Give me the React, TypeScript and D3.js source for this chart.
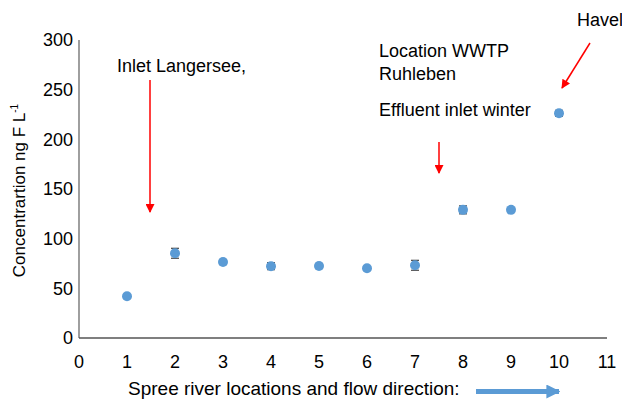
import React from "react";
import * as d3 from "d3";

const locations = [1, 2, 3, 4, 5, 6, 7, 8, 9, 10];
const concentrations = [42, 85.3, 76.5, 72.3, 72.5, 70.2, 73.2, 129, 129, 226.2];
const errors = [1.5, 5, 2.5, 3.5, 2.5, 1.5, 5, 4, 1.5, 3];
const xTicks = [0, 1, 2, 3, 4, 5, 6, 7, 8, 9, 10, 11];
const yTicks = [0, 50, 100, 150, 200, 250, 300];

const FONT = "'Liberation Sans', Arial, Helvetica, sans-serif";

export default function App() {
  const W = 622, H = 400;
  const x = d3.scaleLinear().domain([0, 11]).range([79, 607]);
  const y = d3.scaleLinear().domain([0, 300]).range([338, 40]);
  const blue = "#5b9bd5";
  const red = "#ff0000";
  return (
    <svg width={W} height={H} style={{ position: "absolute", left: 0, top: 0, background: "#fff" }} fontFamily={FONT}>
      <defs>
        <marker id="redhead" viewBox="0 0 10 10" refX="9" refY="5" markerUnits="userSpaceOnUse" markerWidth="10" markerHeight="9" orient="auto">
          <path d="M0,0 L10,5 L0,10 z" fill={red} />
        </marker>
        <marker id="bluehead" viewBox="0 0 10 10" refX="9" refY="5" markerUnits="userSpaceOnUse" markerWidth="14" markerHeight="14" orient="auto">
          <path d="M0,0 L10,5 L0,10 z" fill={blue} />
        </marker>
      </defs>
      {/* axes */}
      <line x1={x(0)} x2={x(0)} y1={y(300)} y2={y(0)} stroke="#767676" strokeWidth={1.4} />
      <line x1={x(0)} x2={x(11)} y1={y(0)} y2={y(0)} stroke="#555" strokeWidth={1.4} />
      {yTicks.map((t) => (
        <text key={"y" + t} x={x(0) - 6} y={y(t)} dy="0.35em" textAnchor="end" fontSize={18} fill="#000">{t}</text>
      ))}
      {xTicks.map((t) => (
        <text key={"x" + t} x={x(t)} y={368} textAnchor="middle" fontSize={18} fill="#000">{t}</text>
      ))}
      {/* y title */}
      <text transform={`translate(25,${190.5}) rotate(-90)`} textAnchor="middle" fontSize={17} fill="#000">
        Concentrartion ng F L<tspan dy={-7} fontSize={10}>-1</tspan>
      </text>
      {/* x title */}
      <text x={128} y={395} fontSize={19} fill="#000">Spree river locations and flow direction:</text>
      <line x1={476} x2={559} y1={391.5} y2={391.5} stroke={blue} strokeWidth={5} markerEnd="url(#bluehead)" />
      {/* error bars */}
      {locations.map((l, i) => (
        <g key={"e" + l} stroke="#444" strokeWidth={1.2}>
          <line x1={x(l)} x2={x(l)} y1={y(concentrations[i] - errors[i])} y2={y(concentrations[i] + errors[i])} />
          <line x1={x(l) - 4} x2={x(l) + 4} y1={y(concentrations[i] - errors[i])} y2={y(concentrations[i] - errors[i])} />
          <line x1={x(l) - 4} x2={x(l) + 4} y1={y(concentrations[i] + errors[i])} y2={y(concentrations[i] + errors[i])} />
        </g>
      ))}
      {/* points */}
      {locations.map((l, i) => (
        <circle key={"p" + l} cx={x(l)} cy={y(concentrations[i])} r={5} fill={blue} />
      ))}
      {/* annotations */}
      <text x={117} y={72} fontSize={18} fill="#000">Inlet Langersee,</text>
      <line x1={150} x2={150} y1={80} y2={212} stroke={red} strokeWidth={1.5} markerEnd="url(#redhead)" />
      <text x={379} y={57} fontSize={18} fill="#000">Location WWTP</text>
      <text x={379} y={80} fontSize={18} fill="#000">Ruhleben</text>
      <text x={379} y={116} fontSize={18} fill="#000">Effluent inlet winter</text>
      <line x1={439} x2={439} y1={142} y2={173} stroke={red} strokeWidth={1.5} markerEnd="url(#redhead)" />
      <text x={577} y={26} fontSize={18} fill="#000">Havel</text>
      <line x1={590} x2={562} y1={43} y2={88} stroke={red} strokeWidth={1.5} markerEnd="url(#redhead)" />
    </svg>
  );
}
